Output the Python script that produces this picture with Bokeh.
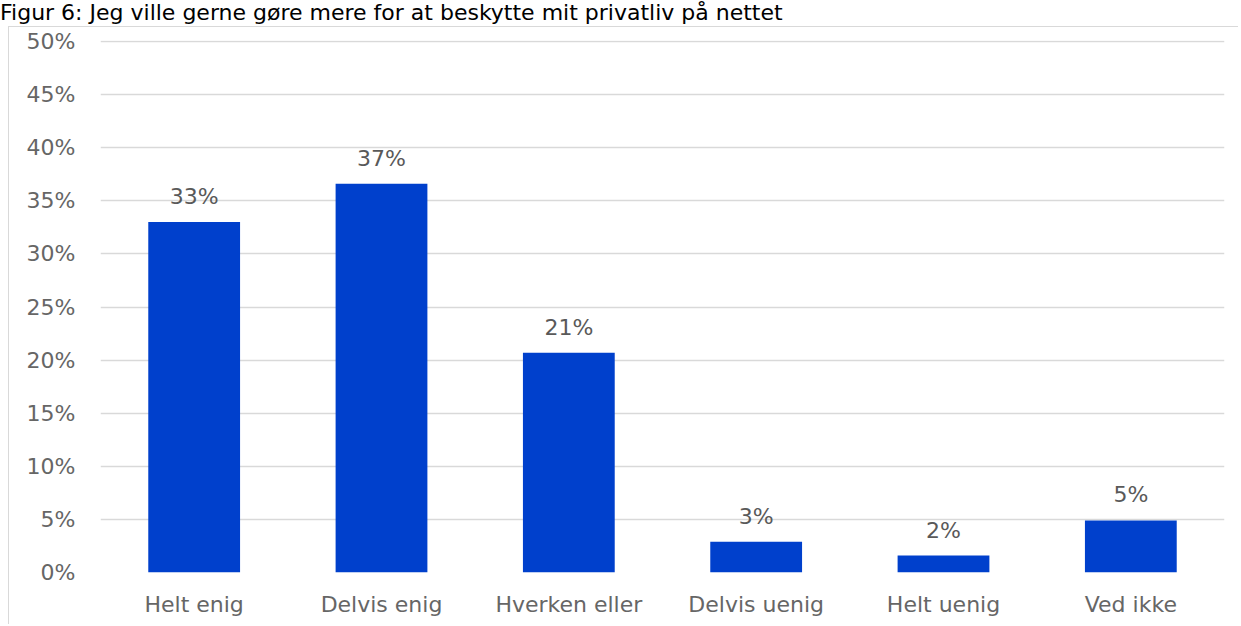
from bokeh.plotting import figure
from bokeh.models import ColumnDataSource, FactorRange, FixedTicker, PrintfTickFormatter, Div
from bokeh.layouts import column
from bokeh.core.properties import value
from bokeh.embed import file_html
from bokeh.resources import INLINE

title_text = "Figur 6: Jeg ville gerne gøre mere for at beskytte mit privatliv på nettet"
categories = ["Helt enig", "Delvis enig", "Hverken eller", "Delvis uenig", "Helt uenig", "Ved ikke"]
shares = [33.0, 36.6, 20.7, 2.9, 1.6, 4.9]
labels = [f"{round(v)}%" for v in shares]
y_ticks = [0, 5, 10, 15, 20, 25, 30, 35, 40, 45, 50]

FONT = "DejaVu Sans"

src = ColumnDataSource(dict(cat=categories, val=shares, lab=labels))

p = figure(x_range=FactorRange(*categories, range_padding=0), y_range=(0, 50.1),
           width=1230, height=598, output_backend="svg", toolbar_location=None,
           min_border_left=91, min_border_right=15, min_border_top=13, min_border_bottom=53,
           styles={"margin-left": "8px", "border-left": "1px solid #d9d9d9",
                   "border-top": "1px solid #d9d9d9"})
p.outline_line_color = None
p.vbar(x="cat", top="val", width=0.49, source=src, fill_color="#0040CC", line_color=None)
p.text(x="cat", y="val", text="lab", source=src, text_align="center", text_baseline="bottom",
       y_offset=-13, text_font=value(FONT), text_font_size="22px", text_color="#595959")

p.xgrid.grid_line_color = None
p.ygrid.grid_line_color = "#d9d9d9"
p.ygrid.grid_line_width = 1.5
p.yaxis.ticker = FixedTicker(ticks=y_ticks)
p.yaxis.formatter = PrintfTickFormatter(format="%d%%")
for ax in (p.xaxis[0], p.yaxis[0]):
    ax.axis_line_color = None
    ax.major_tick_line_color = None
    ax.minor_tick_line_color = None
    ax.major_label_text_font = FONT
    ax.major_label_text_font_size = "22px"
    ax.major_label_text_color = "#666666"
p.yaxis.major_label_standoff = 19
p.xaxis.major_label_standoff = 13

title = Div(text=title_text, width=1100, height=26,
            styles={"font-family": FONT, "font-size": "22px", "line-height": "26px",
                    "color": "#000000", "margin": "0px", "white-space": "nowrap"})

layout = column(title, p, spacing=0)
open("out.html", "w").write(file_html(layout, INLINE))
